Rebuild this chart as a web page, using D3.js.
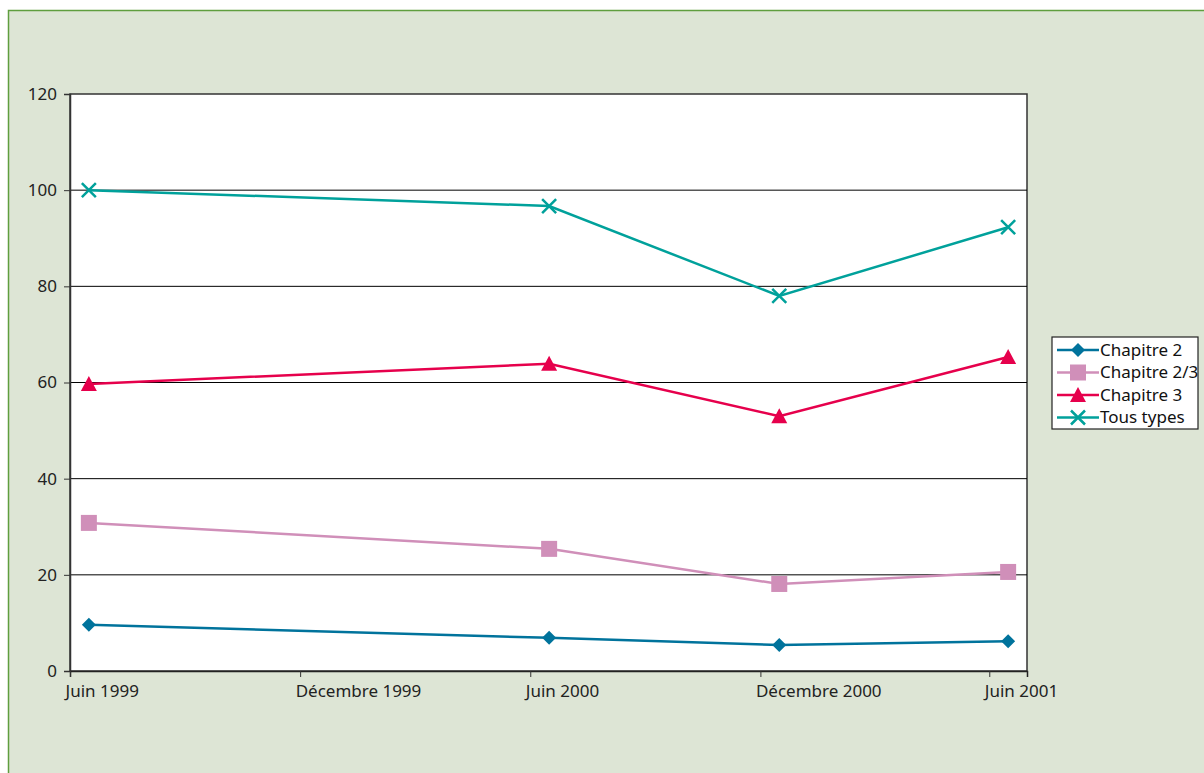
<!DOCTYPE html>
<html>
<head>
<meta charset="utf-8">
<script src="https://cdn.jsdelivr.net/npm/d3@7"></script>
<style>
  html, body { margin: 0; padding: 0; background: #fff; }
  svg { display: block; font-family: "Noto Sans", "Open Sans", sans-serif; }
</style>
</head>
<body>
<svg id="chart" width="1204" height="773"></svg>
<script>
// dates of the surveys (mid-month)
const dates = ["1999-06-16", "2000-06-16", "2000-12-16", "2001-06-16"];
const tickDates = ["1999-06-01", "1999-12-01", "2000-06-01", "2000-12-01", "2001-06-01"];
const tickLabels = ["Juin 1999", "Décembre 1999", "Juin 2000", "Décembre 2000", "Juin 2001"];
const seriesNames = ["Chapitre 2", "Chapitre 2/3", "Chapitre 3", "Tous types"];
const chap2 = [9.6, 6.9, 5.4, 6.2];
const chap23 = [30.8, 25.4, 18.1, 20.6];
const chap3 = [59.7, 63.9, 53.0, 65.3];
const tous = [100, 96.7, 78.0, 92.3];
const yTicks = [0, 20, 40, 60, 80, 100, 120];

const colors = ["#00739c", "#d08fb9", "#e6004c", "#00a19b"];
const shapes = ["diamond", "square", "triangle", "cross"];
const values = [chap2, chap23, chap3, tous];

const parse = d3.utcParse("%Y-%m-%d");
const width = 1204, height = 773;
const margin = {left: 70, right: 177, top: 94, bottom: 102};

const svg = d3.select("#chart");

// background frame
svg.append("rect").attr("width", width).attr("height", height).attr("fill", "#fff");
svg.append("rect")
  .attr("x", 8.5).attr("y", 10.5).attr("width", width + 10).attr("height", height + 10)
  .attr("fill", "#dde5d5").attr("stroke", "#5f9e3f").attr("stroke-width", 1.5);

const x = d3.scaleUtc()
  .domain([parse("1999-06-01"), parse("2001-07-01")])
  .range([margin.left, width - margin.right]);
const y = d3.scaleLinear()
  .domain([0, 120])
  .range([height - margin.bottom, margin.top]);

// plot area
svg.append("rect")
  .attr("x", margin.left).attr("y", margin.top)
  .attr("width", width - margin.left - margin.right)
  .attr("height", height - margin.top - margin.bottom)
  .attr("fill", "#fff").attr("stroke", "#333").attr("stroke-width", 1.5);

// gridlines
svg.append("g")
  .selectAll("line")
  .data(yTicks.slice(1, -1))
  .join("line")
  .attr("x1", margin.left).attr("x2", width - margin.right)
  .attr("y1", d => y(d)).attr("y2", d => y(d))
  .attr("stroke", "#000").attr("stroke-width", 1);

// y axis
const yAxis = svg.append("g")
  .attr("transform", `translate(${margin.left},0)`)
  .call(d3.axisLeft(y).tickValues(yTicks).tickSize(6).tickPadding(7));
yAxis.select(".domain").attr("stroke", "#333").attr("stroke-width", 1.5);
yAxis.selectAll(".tick line").attr("stroke", "#333");
yAxis.selectAll("text").attr("font-size", 17).attr("fill", "#222").attr("font-family", "Noto Sans");

// x axis
const xAxis = svg.append("g")
  .attr("transform", `translate(0,${height - margin.bottom})`)
  .call(d3.axisBottom(x).tickValues(tickDates.map(parse))
    .tickFormat((d, i) => tickLabels[i]).tickSize(6).tickPadding(8));
xAxis.select(".domain").attr("stroke", "#222").attr("stroke-width", 1.5);
xAxis.selectAll(".tick line").attr("stroke", "#333");
xAxis.selectAll("text")
  .attr("font-size", 17).attr("fill", "#222").attr("font-family", "Noto Sans")
  .attr("text-anchor", "start").attr("dx", -5);

function marker(g, shape, color) {
  if (shape === "diamond") {
    g.append("path").attr("d", "M0,-7L7,0L0,7L-7,0Z").attr("fill", color);
  } else if (shape === "square") {
    g.append("rect").attr("x", -8).attr("y", -8).attr("width", 16).attr("height", 16).attr("fill", color);
  } else if (shape === "triangle") {
    g.append("path").attr("d", "M0,-8L8,7L-8,7Z").attr("fill", color);
  } else {
    g.append("path").attr("d", "M-7,-7L7,7M-7,7L7,-7")
      .attr("stroke", color).attr("stroke-width", 2.5).attr("fill", "none");
  }
}

const line = d3.line()
  .x((d, i) => x(parse(dates[i])))
  .y(d => y(d));

values.forEach((vals, s) => {
  const g = svg.append("g");
  g.append("path")
    .datum(vals)
    .attr("d", line)
    .attr("fill", "none")
    .attr("stroke", colors[s])
    .attr("stroke-width", 2.5);
  g.selectAll("g")
    .data(vals)
    .join("g")
    .attr("transform", (d, i) => `translate(${x(parse(dates[i]))},${y(d)})`)
    .each(function() { marker(d3.select(this), shapes[s], colors[s]); });
});

// legend
const legend = svg.append("g").attr("transform", "translate(1052,337)");
legend.append("rect")
  .attr("width", 146).attr("height", 92)
  .attr("fill", "#fff").attr("stroke", "#222").attr("stroke-width", 1.2);
seriesNames.forEach((name, s) => {
  const ly = 13 + s * 22.5;
  const item = legend.append("g").attr("transform", `translate(0,${ly})`);
  item.append("line").attr("x1", 5).attr("x2", 47).attr("y1", 0).attr("y2", 0)
    .attr("stroke", colors[s]).attr("stroke-width", 2.5);
  const m = item.append("g").attr("transform", "translate(26,0)");
  marker(m, shapes[s], colors[s]);
  item.append("text").attr("x", 48).attr("y", 0).attr("dy", "0.35em")
    .attr("font-size", 17).attr("fill", "#111").text(name);
});
</script>
</body>
</html>
